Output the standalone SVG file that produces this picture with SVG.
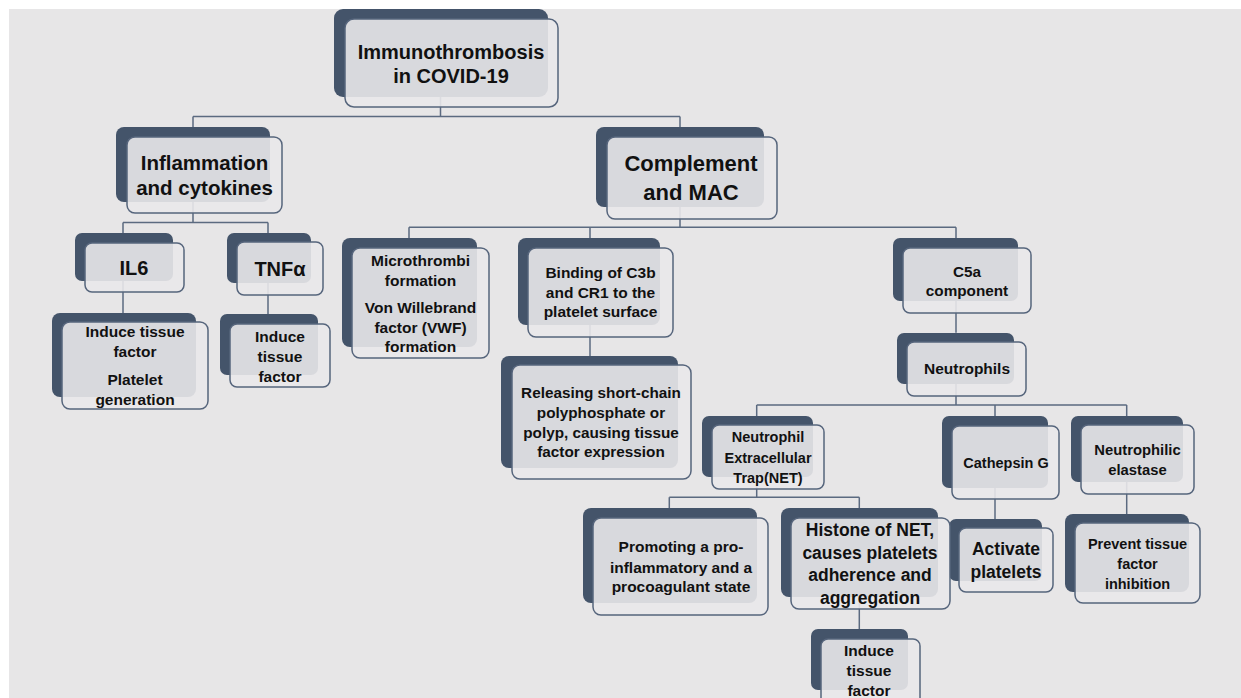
<svg xmlns="http://www.w3.org/2000/svg" width="1241" height="698" viewBox="0 0 1241 698">
<style>
.bk{fill:#44546a;}
.fr{fill:#e9e8ea;fill-opacity:0.9;stroke:#56657c;stroke-width:1.5;}
.t{font-family:"Liberation Sans",Arial,sans-serif;font-weight:bold;fill:#111;text-anchor:middle;}
.cn{fill:none;stroke:#5b6a80;stroke-width:1.5;}
</style>
<rect x="0" y="0" width="1241" height="698" fill="#ffffff"/>
<rect x="9" y="9" width="1232" height="689" fill="#e7e6e7"/>
<g id="connectors" class="cn">
<path d="M440.5 97V116.5M193 116.5H680M193 116.5V127M680 116.5V127"/>
<path d="M193 202V222.5M123 222.5H268M123 222.5V233M268 222.5V233"/>
<path d="M123 281V313"/>
<path d="M268 283V314"/>
<path d="M680 207V227.3M409 227.3H956M409 227.3V238M590 227.3V238M956 227.3V238"/>
<path d="M590 325V356"/>
<path d="M956 301V332.7"/>
<path d="M956 384V405M756.7 405H1126.7M756.7 405V416M995 405V416M1126.7 405V416"/>
<path d="M756.7 477V497.3M669.3 497.3H859.3M669.3 497.3V508.3M859.3 497.3V508.3"/>
<path d="M995 488V519.3"/>
<path d="M1126.7 482V514"/>
<path d="M859.3 597V629.3"/>
</g>
<g id="root">
<rect class="bk" x="334" y="9" width="214" height="88" rx="9"/>
<rect class="fr" x="345" y="19" width="213" height="88" rx="9"/>
<text class="t" x="451" font-size="20"><tspan x="451" y="59">Immunothrombosis</tspan><tspan x="451" y="83">in COVID-19</tspan></text>
</g>
<g id="inflammation">
<rect class="bk" x="116" y="127" width="154" height="75" rx="8"/>
<rect class="fr" x="127" y="137" width="155" height="76" rx="8"/>
<text class="t" font-size="20.5"><tspan x="204.5" y="169.5">Inflammation</tspan><tspan x="204.5" y="194.5">and cytokines</tspan></text>
</g>
<g id="complement">
<rect class="bk" x="596" y="127" width="168" height="80" rx="8"/>
<rect class="fr" x="607" y="137" width="170" height="82" rx="8"/>
<text class="t" font-size="22"><tspan x="691" y="171">Complement</tspan><tspan x="691" y="199.5">and MAC</tspan></text>
</g>
<g id="il6">
<rect class="bk" x="75" y="233" width="98" height="48" rx="7"/>
<rect class="fr" x="85" y="243" width="99" height="49" rx="7"/>
<text class="t" font-size="20" x="134" y="275">IL6</text>
</g>
<g id="tnf">
<rect class="bk" x="227" y="233" width="84" height="50" rx="7"/>
<rect class="fr" x="237" y="242" width="86" height="53" rx="7"/>
<text class="t" font-size="20" x="280" y="276">TNFα</text>
</g>
<g id="il6-effects">
<rect class="bk" x="52" y="313" width="144" height="84" rx="8"/>
<rect class="fr" x="62" y="322" width="146" height="87" rx="8"/>
<text class="t" font-size="15.5"><tspan x="135" y="336.5">Induce tissue</tspan><tspan x="135" y="357.3">factor</tspan><tspan x="135" y="384.6">Platelet</tspan><tspan x="135" y="404.6">generation</tspan></text>
</g>
<g id="tnf-effect">
<rect class="bk" x="220" y="314" width="98" height="61" rx="7"/>
<rect class="fr" x="230" y="324" width="100" height="63" rx="7"/>
<text class="t" font-size="15.5"><tspan x="280" y="341.5">Induce</tspan><tspan x="280" y="361.5">tissue</tspan><tspan x="280" y="381.5">factor</tspan></text>
</g>
<g id="microthrombi">
<rect class="bk" x="342" y="238" width="135" height="109" rx="8"/>
<rect class="fr" x="352" y="248" width="137" height="110" rx="8"/>
<text class="t" font-size="15.5"><tspan x="420.5" y="265.5">Microthrombi</tspan><tspan x="420.5" y="285.5">formation</tspan><tspan x="420.5" y="312.5">Von Willebrand</tspan><tspan x="420.5" y="332.5">factor (VWF)</tspan><tspan x="420.5" y="352">formation</tspan></text>
</g>
<g id="binding">
<rect class="bk" x="518" y="238" width="142" height="87" rx="8"/>
<rect class="fr" x="528" y="248" width="145" height="89" rx="8"/>
<text class="t" font-size="15.5"><tspan x="600.5" y="277.8">Binding of C3b</tspan><tspan x="600.5" y="297.8">and CR1 to the</tspan><tspan x="600.5" y="317.2">platelet surface</tspan></text>
</g>
<g id="releasing">
<rect class="bk" x="501" y="356" width="177" height="112" rx="8"/>
<rect class="fr" x="512" y="365" width="179" height="114" rx="8"/>
<text class="t" font-size="15.3"><tspan x="601" y="397.8">Releasing short-chain</tspan><tspan x="601" y="418.2">polyphosphate or</tspan><tspan x="601" y="437.8">polyp, causing tissue</tspan><tspan x="601" y="457.2">factor expression</tspan></text>
</g>
<g id="c5a">
<rect class="bk" x="893" y="238" width="125" height="63" rx="7"/>
<rect class="fr" x="903" y="248" width="128" height="65" rx="7"/>
<text class="t" font-size="15.3"><tspan x="967" y="276.5">C5a</tspan><tspan x="967" y="295.5">component</tspan></text>
</g>
<g id="neutrophils">
<rect class="bk" x="897" y="333" width="117" height="51" rx="7"/>
<rect class="fr" x="907" y="342" width="119" height="54" rx="7"/>
<text class="t" font-size="15.5" x="967" y="373.8">Neutrophils</text>
</g>
<g id="net">
<rect class="bk" x="702" y="416" width="111" height="61" rx="7"/>
<rect class="fr" x="712" y="425" width="112" height="64" rx="7"/>
<text class="t" font-size="14.5"><tspan x="768" y="442">Neutrophil</tspan><tspan x="768" y="462.5">Extracellular</tspan><tspan x="768" y="482.5">Trap(NET)</tspan></text>
</g>
<g id="cathepsin">
<rect class="bk" x="942" y="416" width="106" height="72" rx="7"/>
<rect class="fr" x="952" y="426" width="107" height="73" rx="7"/>
<text class="t" font-size="14.5" x="1006" y="467.5">Cathepsin G</text>
</g>
<g id="elastase">
<rect class="bk" x="1071" y="416" width="112" height="66" rx="7"/>
<rect class="fr" x="1081" y="425" width="113" height="69" rx="7"/>
<text class="t" font-size="14.8"><tspan x="1137.5" y="455.3">Neutrophilic</tspan><tspan x="1137.5" y="475.3">elastase</tspan></text>
</g>
<g id="activate">
<rect class="bk" x="949" y="519" width="93" height="62" rx="7"/>
<rect class="fr" x="959" y="528" width="94" height="64" rx="7"/>
<text class="t" font-size="17.5"><tspan x="1006" y="555.3">Activate</tspan><tspan x="1006" y="578">platelets</tspan></text>
</g>
<g id="prevent">
<rect class="bk" x="1065" y="514" width="124" height="78" rx="8"/>
<rect class="fr" x="1075" y="523" width="125" height="80" rx="8"/>
<text class="t" font-size="14.5"><tspan x="1137.5" y="548.5">Prevent tissue</tspan><tspan x="1137.5" y="568.5">factor</tspan><tspan x="1137.5" y="588.5">inhibition</tspan></text>
</g>
<g id="promoting">
<rect class="bk" x="583" y="508" width="174" height="95" rx="8"/>
<rect class="fr" x="593" y="518" width="175" height="97" rx="8"/>
<text class="t" font-size="15.5"><tspan x="681" y="552.2">Promoting a pro-</tspan><tspan x="681" y="572.8">inflammatory and a</tspan><tspan x="681" y="592.2">procoagulant state</tspan></text>
</g>
<g id="histone">
<rect class="bk" x="781" y="508" width="157" height="89" rx="8"/>
<rect class="fr" x="791" y="518" width="159" height="91" rx="8"/>
<text class="t" font-size="17.5"><tspan x="870" y="536.3">Histone of NET,</tspan><tspan x="870" y="559">causes platelets</tspan><tspan x="870" y="581.3">adherence and</tspan><tspan x="870" y="603.6">aggregation</tspan></text>
</g>
<g id="induce-bottom">
<rect class="bk" x="811" y="629" width="97" height="61" rx="7"/>
<rect class="fr" x="821" y="639" width="99" height="72" rx="7"/>
<text class="t" font-size="15.5"><tspan x="869" y="656.2">Induce</tspan><tspan x="869" y="676.2">tissue</tspan><tspan x="869" y="695.5">factor</tspan></text>
</g>
</svg>
